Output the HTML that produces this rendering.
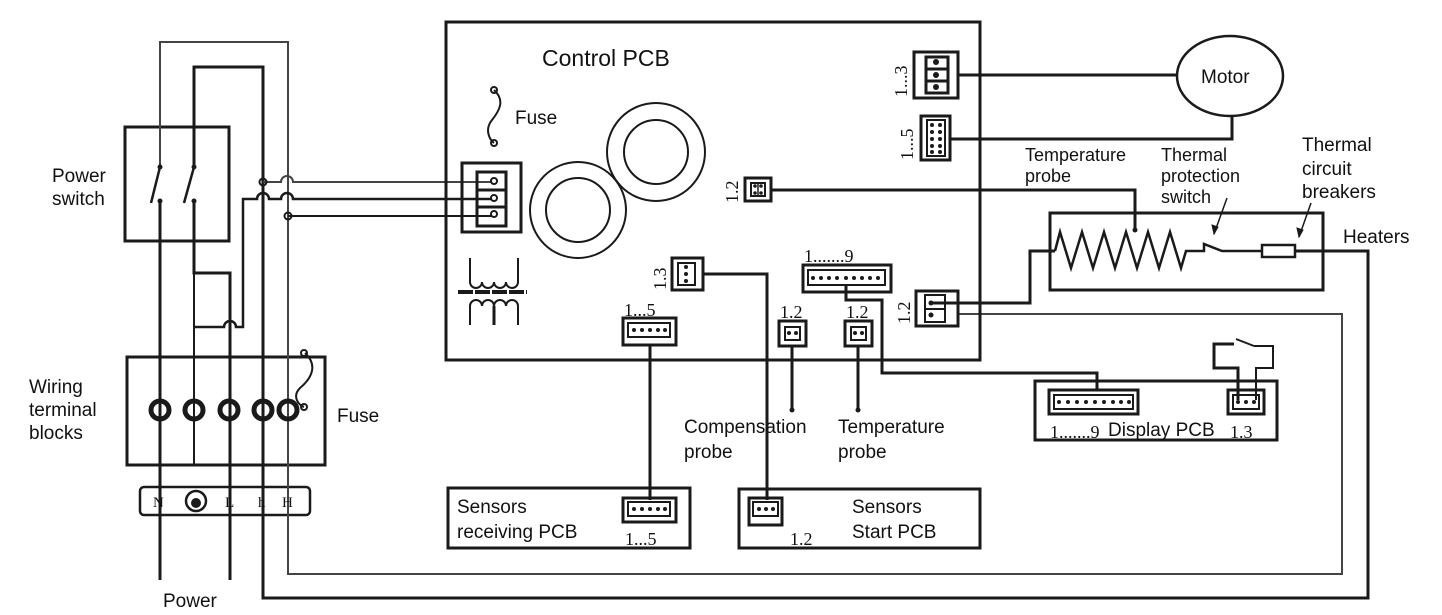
<!DOCTYPE html>
<html><head><meta charset="utf-8"><style>
html,body{margin:0;padding:0;background:#fff;}
svg{display:block;}
text{font-family:"Liberation Sans",sans-serif;fill:#111;}
.s text{font-family:"Liberation Serif",serif;}
</style></head><body>
<svg width="1442" height="615" viewBox="0 0 1442 615" xmlns="http://www.w3.org/2000/svg">
<g fill="none" stroke="#1a1a1a" stroke-width="3">
<rect x="125" y="127" width="104" height="114"/>
<rect x="127" y="357" width="198" height="108"/>
<rect x="140" y="487" width="170" height="28" rx="4" stroke-width="2.5"/>
<polyline points="160,167 160,42 288,42 288,574 1342,574 1342,314 958,314" stroke="#444" stroke-width="2"/>
<polyline points="194,167 194,67 263,67 263,598 1368,598 1368,251 1295,251"/>
<line x1="160" y1="201" x2="160" y2="580"/>
<line x1="151" y1="203" x2="160" y2="167" stroke-width="2.5"/>
<line x1="184" y1="203" x2="194" y2="167" stroke-width="2.5"/>
<polyline points="194,201 194,273 230,273 230,580"/>
<polyline points="194,273 194,465" stroke-width="2"/>
<path d="M194,327 H224 A6,6 0 0 1 236,327 H243 V199 H257 A6,6 0 0 1 269,199 H281 A6,6 0 0 1 293,199 H491" stroke-width="2.5"/>
<path d="M263,182 H281 A6,6 0 0 1 293,182 H491" stroke="#444" stroke-width="2"/>
<path d="M288,216 H491" stroke-width="2"/>
<circle cx="263" cy="182" r="3.5" stroke-width="2"/>
<circle cx="288" cy="216" r="3.5" stroke-width="2"/>
<g stroke-width="5">
<circle cx="160" cy="410" r="9"/><circle cx="194" cy="410" r="9"/><circle cx="229" cy="410" r="9"/><circle cx="263" cy="410" r="9"/><circle cx="288" cy="410" r="9"/>
</g>
<path d="M305,353 C318,365 312,378 300,388 C292,396 298,405 304,407" stroke-width="2"/>
<circle cx="304" cy="353" r="3" stroke-width="2"/><circle cx="304" cy="407" r="3" stroke-width="2"/>
<circle cx="196" cy="501" r="10" stroke-width="2.5"/>
<rect x="446" y="22" width="534" height="338"/>
<path d="M494,90 C505,100 500,110 492,120 C484,130 490,140 494,143" stroke-width="2"/>
<circle cx="494" cy="90" r="3" stroke-width="2"/><circle cx="494" cy="143" r="3" stroke-width="2"/>
<rect x="462" y="163" width="59" height="69"/>
<rect x="477" y="172" width="29" height="54"/>
<line x1="477" y1="190" x2="506" y2="190"/><line x1="477" y1="207" x2="506" y2="207"/>
<circle cx="494" cy="181" r="3" stroke-width="2"/><circle cx="494" cy="198" r="3" stroke-width="2"/><circle cx="494" cy="214" r="3" stroke-width="2"/>
<circle cx="656" cy="152" r="49" stroke-width="2"/><circle cx="656" cy="152" r="32" stroke-width="2"/>
<circle cx="578" cy="210" r="48" stroke-width="2"/><circle cx="578" cy="210" r="32" stroke-width="2"/>
<path d="M470,258 V282 A6,6 0 0 0 482,282 A6,6 0 0 0 494,282 A6,6 0 0 0 506,282 A6,6 0 0 0 518,282 V258" stroke-width="2"/>
<line x1="458" y1="292" x2="527" y2="292" stroke-width="4" stroke-dasharray="15,2"/>
<path d="M470,325 V306 A6,6 0 0 1 482,306 A6,6 0 0 1 494,306 A6,6 0 0 1 506,306 A6,6 0 0 1 518,306 V325" stroke-width="2"/>
<line x1="494" y1="306" x2="494" y2="325" stroke-width="3"/>
<rect x="914" y="52" width="44" height="46"/><rect x="926" y="57" width="22" height="36"/>
<line x1="926" y1="69" x2="948" y2="69"/><line x1="926" y1="81" x2="948" y2="81"/>
<rect x="921" y="116" width="29" height="44"/><rect x="927" y="120" width="18" height="36" stroke-width="2"/>
<rect x="745" y="178" width="26" height="23"/><rect x="751" y="183" width="14" height="13" stroke-width="2"/>
<line x1="758" y1="183" x2="758" y2="196" stroke-width="1.5"/>
<line x1="958" y1="75" x2="1178" y2="75"/>
<polyline points="950,139 1232,139 1232,115"/>
<polyline points="771,190 1135,190 1135,230"/>
<ellipse cx="1230" cy="76" rx="53" ry="40" stroke-width="2.5"/>
<rect x="672" y="258" width="31" height="32"/><rect x="678" y="263" width="17" height="22" stroke-width="2"/>
<polyline points="703,274 767,274 767,500"/>
<rect x="803" y="265" width="88" height="27"/><rect x="808" y="270" width="77" height="15" stroke-width="2"/>
<polyline points="846,285 846,300 882,300 882,373 1097,373 1097,390"/>
<rect x="623" y="318" width="53" height="27"/><rect x="628" y="323" width="42" height="14" stroke-width="2"/>
<line x1="650" y1="345" x2="650" y2="500"/>
<rect x="779" y="321" width="27" height="25"/><rect x="785" y="327" width="15" height="13" stroke-width="2"/>
<line x1="792" y1="346" x2="792" y2="410"/>
<rect x="845" y="321" width="27" height="25"/><rect x="851" y="327" width="15" height="13" stroke-width="2"/>
<line x1="858" y1="346" x2="858" y2="410"/>
<rect x="916" y="291" width="42" height="35"/><rect x="925" y="295" width="20" height="27" stroke-width="2"/>
<line x1="925" y1="309" x2="945" y2="309" stroke-width="2"/>
<polyline points="933,303 1030,303 1030,251 1055,251"/>
<rect x="1050" y="213" width="273" height="77"/>
<polyline points="1055,251 1060,232 1071,268 1082,232 1093,268 1104,232 1115,268 1126,232 1137,268 1148,232 1159,268 1170,232 1181,268 1186,251 1204,251 1204,244 1222,251 1262,251" stroke-width="2.5"/>
<rect x="1262" y="245" width="33" height="12" stroke-width="2.5"/>
<line x1="1227" y1="198" x2="1214" y2="234" stroke-width="1.5"/>
<path d="M1214,234 l-2,-9 l6,2 z" fill="#1a1a1a" stroke-width="1"/>
<line x1="1311" y1="203" x2="1299" y2="237" stroke-width="1.5"/>
<path d="M1299,237 l-2,-9 l6,2 z" fill="#1a1a1a" stroke-width="1"/>
<rect x="1035" y="381" width="242" height="59"/>
<rect x="1049" y="390" width="89" height="24"/><rect x="1054" y="395" width="79" height="14" stroke-width="2"/>
<rect x="1228" y="390" width="36" height="24"/><rect x="1233" y="395" width="26" height="14" stroke-width="2"/>
<polyline points="1238,400 1238,368 1214,368 1214,344 1234,344"/>
<line x1="1236" y1="339" x2="1254" y2="346" stroke-width="2"/>
<polyline points="1254,346 1273,346 1273,368 1256,368 1256,400" stroke-width="2"/>
<rect x="448" y="488" width="242" height="60"/>
<rect x="623" y="498" width="53" height="24"/><rect x="628" y="502" width="42" height="14" stroke-width="2"/>
<rect x="739" y="489" width="241" height="59"/>
<rect x="749" y="498" width="33" height="27"/><rect x="753" y="502" width="25" height="14" stroke-width="2"/>
</g>
<g fill="#1a1a1a">
<circle cx="160" cy="167" r="2.5"/><circle cx="194" cy="167" r="2.5"/><circle cx="160" cy="201" r="2.5"/><circle cx="194" cy="201" r="2.5"/>
<circle cx="1135" cy="230" r="2.5"/><circle cx="792" cy="410" r="2.5"/><circle cx="858" cy="410" r="2.5"/>
<circle cx="936" cy="62" r="3"/><circle cx="936" cy="75" r="3"/><circle cx="936" cy="87" r="3"/>
<circle cx="931" cy="303" r="2.5"/><circle cx="931" cy="315" r="2.5"/>
<circle cx="196" cy="503" r="5"/>
</g>
<g fill="#1a1a1a">
<circle cx="932" cy="125" r="2"/><circle cx="940" cy="125" r="2"/><circle cx="932" cy="132" r="2"/><circle cx="940" cy="132" r="2"/><circle cx="932" cy="139" r="2"/><circle cx="940" cy="139" r="2"/><circle cx="932" cy="146" r="2"/><circle cx="940" cy="146" r="2"/><circle cx="932" cy="152" r="2"/><circle cx="940" cy="152" r="2"/>
<circle cx="755" cy="186" r="1.8"/><circle cx="761" cy="186" r="1.8"/><circle cx="755" cy="193" r="1.8"/><circle cx="761" cy="193" r="1.8"/>
<circle cx="686" cy="267" r="2"/><circle cx="686" cy="274" r="2"/><circle cx="686" cy="281" r="2"/>
<circle cx="813" cy="278" r="2"/><circle cx="821" cy="278" r="2"/><circle cx="829" cy="278" r="2"/><circle cx="837" cy="278" r="2"/><circle cx="846" cy="278" r="2"/><circle cx="854" cy="278" r="2"/><circle cx="862" cy="278" r="2"/><circle cx="870" cy="278" r="2"/><circle cx="878" cy="278" r="2"/>
<circle cx="634" cy="330" r="2"/><circle cx="642" cy="330" r="2"/><circle cx="650" cy="330" r="2"/><circle cx="658" cy="330" r="2"/><circle cx="665" cy="330" r="2"/>
<circle cx="789" cy="333" r="2"/><circle cx="796" cy="333" r="2"/><circle cx="855" cy="333" r="2"/><circle cx="862" cy="333" r="2"/>
<circle cx="1059" cy="402" r="2"/><circle cx="1068" cy="402" r="2"/><circle cx="1077" cy="402" r="2"/><circle cx="1086" cy="402" r="2"/><circle cx="1095" cy="402" r="2"/><circle cx="1104" cy="402" r="2"/><circle cx="1113" cy="402" r="2"/><circle cx="1121" cy="402" r="2"/><circle cx="1129" cy="402" r="2"/>
<circle cx="1238" cy="402" r="2"/><circle cx="1246" cy="402" r="2"/><circle cx="1254" cy="402" r="2"/>
<circle cx="634" cy="509" r="2"/><circle cx="642" cy="509" r="2"/><circle cx="650" cy="509" r="2"/><circle cx="658" cy="509" r="2"/><circle cx="665" cy="509" r="2"/>
<circle cx="759" cy="509" r="2"/><circle cx="766" cy="509" r="2"/><circle cx="773" cy="509" r="2"/>
</g>
<g font-size="19">
<text x="52" y="182">Power</text><text x="52" y="205">switch</text>
<text x="29" y="393">Wiring</text><text x="29" y="416">terminal</text><text x="29" y="439">blocks</text>
<text x="337" y="422">Fuse</text>
<text x="163" y="607">Power</text>
<text x="515" y="124">Fuse</text>
<text x="1201" y="83">Motor</text>
<text x="1025" y="161" font-size="18">Temperature</text><text x="1025" y="182" font-size="18">probe</text>
<text x="1161" y="161" font-size="18">Thermal</text><text x="1161" y="182" font-size="18">protection</text><text x="1161" y="203" font-size="18">switch</text>
<text x="1302" y="151">Thermal</text><text x="1302" y="175">circuit</text><text x="1302" y="198">breakers</text>
<text x="1343" y="243">Heaters</text>
<text x="684" y="433">Compensation</text><text x="684" y="458">probe</text>
<text x="838" y="433">Temperature</text><text x="838" y="458">probe</text>
<text x="457" y="513">Sensors</text><text x="457" y="538">receiving PCB</text>
<text x="852" y="513">Sensors</text><text x="852" y="538">Start PCB</text>
<text x="1108" y="436">Display PCB</text>
</g>
<text x="542" y="66" font-size="23">Control PCB</text>
<g class="s" font-size="15">
<text x="153" y="507">N</text><text x="225" y="507">L</text><text x="258" y="507">h</text><text x="282" y="507">H</text>
</g>
<g class="s" font-size="18">
<text transform="translate(907,97) rotate(-90)">1...3</text>
<text transform="translate(913,160) rotate(-90)">1...5</text>
<text transform="translate(738,203) rotate(-90)">1.2</text>
<text transform="translate(666,290) rotate(-90)">1.3</text>
<text transform="translate(910,324) rotate(-90)">1.2</text>
<text x="804" y="262">1.......9</text>
<text x="624" y="316">1...5</text>
<text x="780" y="318">1.2</text>
<text x="846" y="318">1.2</text>
<text x="1050" y="438">1.......9</text>
<text x="1230" y="438">1.3</text>
<text x="625" y="545">1...5</text>
<text x="790" y="545">1.2</text>
</g>
</svg>
</body></html>
